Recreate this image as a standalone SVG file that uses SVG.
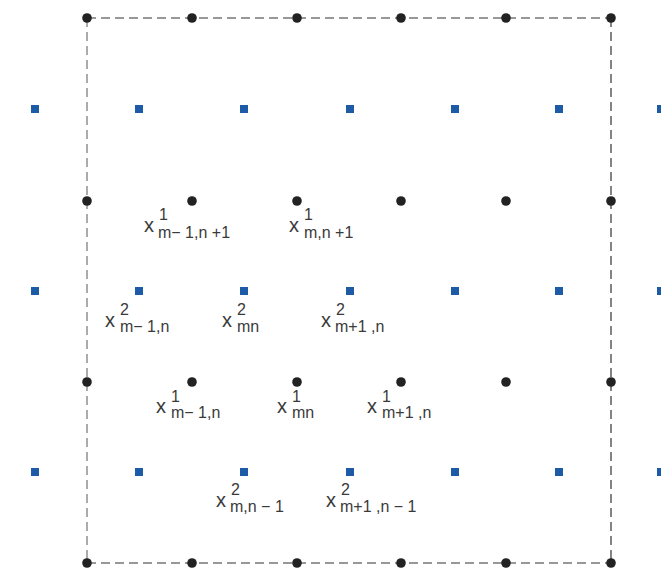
<svg xmlns="http://www.w3.org/2000/svg" width="661" height="574" viewBox="0 0 661 574">
<style>
.bd{fill:none;stroke:#333;stroke-width:1.2;stroke-dasharray:9 5}
.bdl{fill:none;stroke:#888;stroke-width:1.4;stroke-dasharray:9 5}
.dot{fill:#222}
.sq{fill:#1d5ba6}
.x{font-family:"Liberation Sans",Arial,sans-serif;font-size:20px;fill:#3a3a3a}
.s{font-family:"Liberation Sans",Arial,sans-serif;font-size:16px;fill:#3a3a3a}
</style>
<g id="border">
<line class="bd" x1="87" y1="18" x2="611" y2="18"/>
<line class="bd" x1="87" y1="563" x2="611" y2="563"/>
<line class="bdl" x1="87" y1="18" x2="87" y2="563"/>
<line class="bd" x1="611" y1="18" x2="611" y2="563"/>
</g>
<g id="dots">
<circle class="dot" cx="87" cy="18" r="4.8"/><circle class="dot" cx="192" cy="18" r="4.8"/><circle class="dot" cx="297" cy="18" r="4.8"/><circle class="dot" cx="401" cy="18" r="4.8"/><circle class="dot" cx="506" cy="18" r="4.8"/><circle class="dot" cx="611" cy="18" r="4.8"/>
<circle class="dot" cx="87" cy="201" r="4.8"/><circle class="dot" cx="192" cy="201" r="4.8"/><circle class="dot" cx="297" cy="201" r="4.8"/><circle class="dot" cx="401" cy="201" r="4.8"/><circle class="dot" cx="506" cy="201" r="4.8"/><circle class="dot" cx="611" cy="201" r="4.8"/>
<circle class="dot" cx="87" cy="382" r="4.8"/><circle class="dot" cx="192" cy="382" r="4.8"/><circle class="dot" cx="297" cy="382" r="4.8"/><circle class="dot" cx="401" cy="382" r="4.8"/><circle class="dot" cx="506" cy="382" r="4.8"/><circle class="dot" cx="611" cy="382" r="4.8"/>
<circle class="dot" cx="87" cy="563" r="4.8"/><circle class="dot" cx="192" cy="563" r="4.8"/><circle class="dot" cx="297" cy="563" r="4.8"/><circle class="dot" cx="401" cy="563" r="4.8"/><circle class="dot" cx="506" cy="563" r="4.8"/><circle class="dot" cx="611" cy="563" r="4.8"/>
</g>
<g id="squares">
<rect class="sq" x="31" y="105" width="8" height="8"/><rect class="sq" x="135" y="105" width="8" height="8"/><rect class="sq" x="240" y="105" width="8" height="8"/><rect class="sq" x="346" y="105" width="8" height="8"/><rect class="sq" x="451" y="105" width="8" height="8"/><rect class="sq" x="555" y="105" width="8" height="8"/><rect class="sq" x="657" y="105" width="8" height="8"/>
<rect class="sq" x="31" y="287" width="8" height="8"/><rect class="sq" x="135" y="287" width="8" height="8"/><rect class="sq" x="240" y="287" width="8" height="8"/><rect class="sq" x="346" y="287" width="8" height="8"/><rect class="sq" x="451" y="287" width="8" height="8"/><rect class="sq" x="555" y="287" width="8" height="8"/><rect class="sq" x="657" y="287" width="8" height="8"/>
<rect class="sq" x="31" y="468" width="8" height="8"/><rect class="sq" x="135" y="468" width="8" height="8"/><rect class="sq" x="240" y="468" width="8" height="8"/><rect class="sq" x="346" y="468" width="8" height="8"/><rect class="sq" x="451" y="468" width="8" height="8"/><rect class="sq" x="555" y="468" width="8" height="8"/><rect class="sq" x="657" y="468" width="8" height="8"/>
</g>
<g id="labels">
<g id="l1"><text class="x" x="144" y="232">x</text><text class="s" x="159" y="220">1</text><text class="s" x="158" y="238">m− 1,n +1</text></g>
<g id="l2"><text class="x" x="289" y="232">x</text><text class="s" x="304" y="220">1</text><text class="s" x="304" y="238">m,n +1</text></g>
<g id="l3"><text class="x" x="105" y="327">x</text><text class="s" x="120" y="315">2</text><text class="s" x="120" y="332">m− 1,n</text></g>
<g id="l4"><text class="x" x="222" y="327">x</text><text class="s" x="237" y="315">2</text><text class="s" x="237" y="332">mn</text></g>
<g id="l5"><text class="x" x="321" y="327">x</text><text class="s" x="336" y="315">2</text><text class="s" x="335" y="332">m+1 ,n</text></g>
<g id="l6"><text class="x" x="156" y="413">x</text><text class="s" x="171" y="402">1</text><text class="s" x="171" y="418">m− 1,n</text></g>
<g id="l7"><text class="x" x="277" y="413">x</text><text class="s" x="292" y="402">1</text><text class="s" x="292" y="418">mn</text></g>
<g id="l8"><text class="x" x="367" y="413">x</text><text class="s" x="382" y="402">1</text><text class="s" x="382" y="418">m+1 ,n</text></g>
<g id="l9"><text class="x" x="216" y="507">x</text><text class="s" x="231" y="495">2</text><text class="s" x="230" y="512">m,n − 1</text></g>
<g id="l10"><text class="x" x="326" y="507">x</text><text class="s" x="341" y="495">2</text><text class="s" x="340" y="512">m+1 ,n − 1</text></g>
</g>
</svg>
